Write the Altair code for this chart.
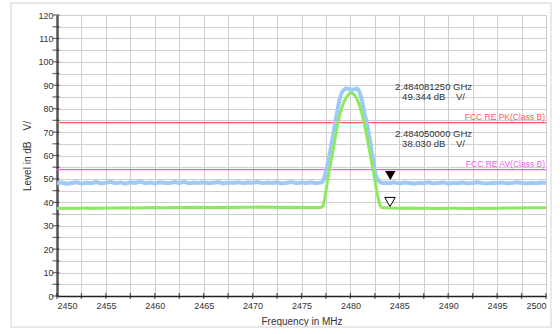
import altair as alt
import pandas as pd

# ---------------- data ----------------
# Peak trace (blue): flat part left, signal, flat part right
pk_left_freq = [2450 + 0.5 * i for i in range(55)]          # 2450 .. 2477 sample grid
pk_left_level = [48.1, 48.5, 47.9, 48.3, 48.6, 48.0, 48.4, 48.2, 48.7, 48.1,
                 48.4, 48.8, 48.2, 48.5, 48.0, 48.6, 48.3, 48.9, 48.2, 48.5,
                 48.1, 48.6, 48.4, 48.2, 48.7, 48.3, 48.8, 48.1, 48.5, 48.3,
                 48.6, 48.2, 48.4, 48.7, 48.1, 48.5, 48.3, 48.6, 48.2, 48.5,
                 48.4, 48.7, 48.2, 48.5, 48.3, 48.6, 48.1, 48.4, 48.7, 48.2,
                 48.5, 48.3, 48.6, 48.2, 48.4]
pk_sig_freq = [2477.2, 2477.4, 2477.6, 2477.8, 2478.0, 2478.2, 2478.4, 2478.6, 2478.8,
               2479.0, 2479.2, 2479.5, 2479.8, 2480.1, 2480.4, 2480.7, 2480.9,
               2481.1, 2481.3, 2481.5, 2481.7, 2481.9, 2482.1, 2482.3, 2482.5,
               2482.7, 2482.9, 2483.2]
pk_sig_level = [49.0, 51.5, 55.0, 59.0, 63.5, 68.0, 73.0, 77.5, 82.0,
                85.5, 87.6, 88.6, 88.4, 88.0, 88.3, 88.6, 87.5,
                85.0, 81.0, 77.0, 73.5, 69.0, 64.0, 58.5, 53.5,
                50.5, 49.0, 48.3]
pk_right_freq = [2483.5 + 0.5 * i for i in range(34)]        # 2483.5 .. 2500 sample grid
pk_right_level = [48.4, 48.2, 48.6, 48.1, 48.5, 48.3, 48.0, 48.4, 48.2, 48.6,
                  48.1, 48.3, 48.5, 48.0, 48.4, 48.2, 48.5, 48.1, 48.3, 48.6,
                  48.2, 48.0, 48.4, 48.3, 48.5, 48.1, 48.2, 48.6, 48.3, 48.1,
                  48.4, 48.2, 48.5, 48.3]

# Average trace (green)
av_freq = [2450, 2451, 2452, 2453, 2454, 2455, 2456, 2457, 2458, 2459,
           2460, 2461, 2462, 2463, 2464, 2465, 2466, 2467, 2468, 2469,
           2470, 2471, 2472, 2473, 2474, 2475, 2476, 2477,
           2477.2, 2477.35, 2477.5, 2477.7, 2477.9, 2478.1, 2478.3, 2478.5,
           2478.7, 2478.9, 2479.1, 2479.3, 2479.6, 2479.9, 2480.1, 2480.4,
           2480.7, 2481.0, 2481.2, 2481.4, 2481.6, 2481.8, 2482.0, 2482.2,
           2482.4, 2482.6, 2482.8, 2483.0, 2483.2,
           2484, 2485, 2486, 2487, 2488, 2489, 2490, 2491, 2492, 2493,
           2494, 2495, 2496, 2497, 2498, 2499, 2500]
av_level = [37.4, 37.5, 37.5, 37.6, 37.5, 37.6, 37.6, 37.7, 37.6, 37.7,
            37.8, 37.7, 37.8, 37.8, 37.9, 37.8, 37.8, 37.9, 37.8, 37.9,
            37.9, 38.0, 37.9, 37.8, 37.9, 37.8, 37.8, 37.8,
            38.5, 41.0, 45.0, 50.0, 55.0, 59.5, 64.0, 69.0,
            73.5, 77.0, 80.0, 82.5, 85.0, 86.5, 86.8, 86.0,
            84.0, 80.5, 77.5, 74.0, 70.0, 65.5, 61.0, 56.5,
            52.0, 47.0, 42.5, 39.0, 37.8,
            37.6, 37.5, 37.6, 37.5, 37.5, 37.4, 37.5, 37.5, 37.4, 37.5,
            37.5, 37.5, 37.6, 37.6, 37.7, 37.7, 37.7]

# Limit lines
limit_names = ["FCC RE PK(Class B)", "FCC RE AV(Class B)"]
limit_values = [74.0, 54.0]
limit_colors = ["#ff5a5a", "#f25cf2"]

# Markers
marker_freq = [2484.08125, 2484.05]
marker_level = [49.344, 38.030]
marker_kind = ["PK", "AV"]

# Marker readouts
NB = "\u00a0"
readout_text = ["2.484081250 GHz", "49.344 dB" + NB * 4 + "V/",
                "2.484050000 GHz", "38.030 dB" + NB * 4 + "V/"]
readout_freq = [2488.5, 2488.5, 2488.5, 2488.5]
readout_level = [89.2, 84.9, 69.3, 65.1]

x_ticks = [2450, 2452.5, 2455, 2457.5, 2460, 2462.5, 2465, 2467.5, 2470, 2472.5,
           2475, 2477.5, 2480, 2482.5, 2485, 2487.5, 2490, 2492.5, 2495, 2497.5, 2500]
y_ticks = [0, 5, 10, 15, 20, 25, 30, 35, 40, 45, 50, 55, 60, 65, 70, 75, 80, 85,
           90, 95, 100, 105, 110, 115, 120]

# ---------------- chart ----------------
FONT = "Liberation Sans"
PK_COLOR = "#9ecbf5"
AV_COLOR = "#8ee860"

pk_df = pd.DataFrame({"freq": pk_left_freq + pk_sig_freq + pk_right_freq,
                      "level": pk_left_level + pk_sig_level + pk_right_level})
av_df = pd.DataFrame({"freq": av_freq, "level": av_level})
lim_df = pd.DataFrame({"name": limit_names, "value": limit_values, "color": limit_colors,
                       "x0": [2450, 2450], "x1": [2500, 2500]})
mk_df = pd.DataFrame({"freq": marker_freq, "level": marker_level, "kind": marker_kind})
ro_df = pd.DataFrame({"text": readout_text, "freq": readout_freq, "level": readout_level})
xt_df = pd.DataFrame({"t": x_ticks})
yt_df = pd.DataFrame({"t": y_ticks})

xscale = alt.Scale(domain=[2450, 2500], nice=False, zero=False)
yscale = alt.Scale(domain=[0, 120], nice=False, zero=True)

xaxis = alt.Axis(values=x_ticks, format="d", grid=True, labelOverlap=False,
                 labelExpr="datum.value % 5 == 0 ? datum.label : ''",
                 title="Frequency in MHz", titlePadding=6,
                 gridColor="#cfcfcf", gridWidth=1,
                 domainColor="#222222", domainWidth=1.5,
                 ticks=True, tickOpacity=0, tickSize=3,
                 labelPadding=2, labelFontSize=9, labelColor="#333333",
                 titleFontSize=10, titleFontWeight="normal", titleColor="#333333",
                 labelFont=FONT, titleFont=FONT)
yaxis = alt.Axis(values=y_ticks, grid=True, labelOverlap=False,
                 labelExpr="datum.value % 10 == 0 ? datum.label : ''",
                 title="Level in dB" + NB * 4 + "V/", titlePadding=5,
                 gridColor="#cfcfcf", gridWidth=1,
                 domainColor="#555555", domainWidth=2.5,
                 ticks=True, tickOpacity=0, tickSize=4,
                 labelPadding=0, labelFontSize=9, labelColor="#333333",
                 titleFontSize=10, titleFontWeight="normal", titleColor="#333333",
                 labelFont=FONT, titleFont=FONT)


def X(field):
    return alt.X(field, type="quantitative", scale=xscale, axis=xaxis)


def Y(field):
    return alt.Y(field, type="quantitative", scale=yscale, axis=yaxis)


frame = alt.Chart(pd.DataFrame({"a": [0]})).mark_rect(
    fill=None, stroke="#e2e2e2", strokeWidth=1.5
).encode(x=alt.value(-46), x2=alt.value(494), y=alt.value(-12), y2=alt.value(312))

limits = alt.Chart(lim_df).mark_rule(strokeWidth=1.2).encode(
    x=X("x0"), x2="x1:Q", y=Y("value"),
    color=alt.Color("color:N", scale=None),
)
limit_labels = alt.Chart(lim_df).mark_text(
    align="right", baseline="bottom", dy=-1, dx=-1, fontSize=8.5, font=FONT
).encode(
    x=X("x1"), y=Y("value"), text="name:N",
    color=alt.Color("color:N", scale=None),
)

pk_line = alt.Chart(pk_df).mark_line(color=PK_COLOR, strokeWidth=4, clip=True).encode(
    x=X("freq"), y=Y("level"))
av_line = alt.Chart(av_df).mark_line(color=AV_COLOR, strokeWidth=3, clip=True).encode(
    x=X("freq"), y=Y("level"))

mk_filled = alt.Chart(mk_df).transform_filter("datum.kind == 'PK'").mark_point(
    shape="triangle-down", size=110, filled=True, color="black", opacity=1, yOffset=-5
).encode(x=X("freq"), y=Y("level"))
mk_open = alt.Chart(mk_df).transform_filter("datum.kind == 'AV'").mark_point(
    shape="triangle-down", size=110, filled=True, fill="white", stroke="black",
    strokeWidth=1, opacity=1, yOffset=-5
).encode(x=X("freq"), y=Y("level"))

readouts = alt.Chart(ro_df).mark_text(
    align="center", baseline="middle", fontSize=9.5, font=FONT, color="#333333"
).encode(x=X("freq"), y=Y("level"), text="text:N")

# axis ticks crossing the axis lines
ytick_marks = alt.Chart(yt_df).mark_tick(
    orient="horizontal", color="#333333", thickness=1.3, size=7
).encode(y=Y("t"), x=alt.value(-1))
xtick_marks = alt.Chart(xt_df).mark_tick(
    orient="vertical", color="#222222", thickness=1.3, size=6
).encode(x=X("t"), y=alt.value(281))

chart = alt.layer(
    limits, pk_line, av_line, limit_labels, mk_filled, mk_open, readouts,
    ytick_marks, xtick_marks, frame
).properties(
    width=489, height=281,
    autosize=alt.AutoSizeParams(type="none"),
    padding={"left": 57, "top": 15, "right": 14, "bottom": 38},
    background="white",
).configure_view(stroke="#cfcfcf", strokeWidth=1)

chart.save("out.html", embed_options={"renderer": "svg", "actions": False})
